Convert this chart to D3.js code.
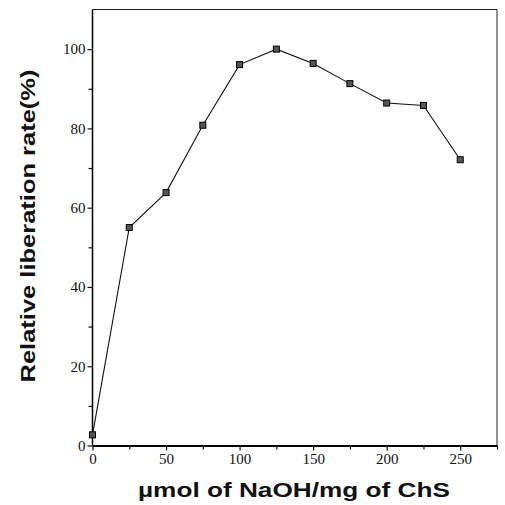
<!DOCTYPE html>
<html>
<head>
<meta charset="utf-8">
<script src="https://cdn.jsdelivr.net/npm/d3@7"></script>
<style>
  body { margin: 0; background: #fff; }
  .tick text { font-family: "Liberation Serif", "Times New Roman", serif; font-size: 15px; fill: #111; }
  .label { font-family: "Liberation Sans", Arial, sans-serif; font-weight: bold; font-size: 21px; fill: #111; }
</style>
</head>
<body>
<script>
// NaOH amount (umol/mg ChS) vs relative liberation rate (%)
var naoh = [0, 25, 50, 75, 100, 125, 150, 175, 200, 225, 250]
var rate = [2.7, 55.0, 63.8, 80.8, 96.1, 100, 96.4, 91.3, 86.4, 85.8, 72.1]

var xMajor = [0, 50, 100, 150, 200, 250]
var xMinor = [25, 75, 125, 175, 225, 275]
var yMajor = [0, 20, 40, 60, 80, 100]
var yMinor = [10, 30, 50, 70, 90]

var width = 505, height = 505
var margin = {top: 9.5, right: 8, bottom: 59.5, left: 92.5}

var svg = d3.select("body").append("svg")
  .attr("width", width)
  .attr("height", height)

var x = d3.scaleLinear().domain([0, 275]).range([margin.left, width - margin.right])
var y = d3.scaleLinear().domain([0, 110]).range([height - margin.bottom, margin.top])

// thin frame on top and right
svg.append("path")
  .attr("d", "M" + x(0) + "," + y(110) + "H" + x(275) + "V" + y(0))
  .attr("fill", "none")
  .attr("stroke", "#222")
  .attr("stroke-width", 1)

// x axis
var xAxisG = svg.append("g").attr("transform", "translate(0," + y(0) + ")")
xAxisG.call(d3.axisBottom(x).tickValues(xMajor).tickSize(5).tickPadding(3).tickSizeOuter(0))
svg.append("g").attr("transform", "translate(0," + y(0) + ")")
  .call(d3.axisBottom(x).tickValues(xMinor).tickSize(4).tickFormat("").tickSizeOuter(0))
  .select(".domain").remove()
xAxisG.select(".domain").attr("stroke-width", 2)

// y axis
var yAxisG = svg.append("g").attr("transform", "translate(" + x(0) + ",0)")
yAxisG.call(d3.axisLeft(y).tickValues(yMajor).tickSize(5).tickPadding(2).tickSizeOuter(0))
svg.append("g").attr("transform", "translate(" + x(0) + ",0)")
  .call(d3.axisLeft(y).tickValues(yMinor).tickSize(4).tickFormat("").tickSizeOuter(0))
  .select(".domain").remove()
yAxisG.select(".domain").attr("d", "M0," + y(0) + "V" + y(110)).attr("stroke-width", 1.5)

svg.selectAll(".tick line").attr("stroke", "#111").attr("stroke-width", 1.2)

// data line
var pts = naoh.map(function(d, i) { return [d, rate[i]] })
var line = d3.line().x(function(d) { return x(d[0]) }).y(function(d) { return y(d[1]) })

svg.append("path")
  .datum(pts)
  .attr("d", line)
  .attr("fill", "none")
  .attr("stroke", "#111")
  .attr("stroke-width", 1.1)

svg.selectAll(".pt")
  .data(pts)
  .enter().append("rect")
  .attr("class", "pt")
  .attr("x", function(d) { return x(d[0]) - 3 })
  .attr("y", function(d) { return y(d[1]) - 3 })
  .attr("width", 6)
  .attr("height", 6)
  .attr("fill", "#555")
  .attr("stroke", "#000")
  .attr("stroke-width", 1)

// axis titles
svg.append("text")
  .attr("class", "label")
  .attr("x", 294)
  .attr("y", 497)
  .attr("text-anchor", "middle")
  .attr("textLength", 312)
  .attr("lengthAdjust", "spacingAndGlyphs")
  .text("µmol of NaOH/mg of ChS")

svg.append("text")
  .attr("class", "label")
  .attr("transform", "translate(35,226) rotate(-90)")
  .attr("text-anchor", "middle")
  .attr("textLength", 313)
  .attr("lengthAdjust", "spacingAndGlyphs")
  .text("Relative liberation rate(%)")
</script>
</body>
</html>
